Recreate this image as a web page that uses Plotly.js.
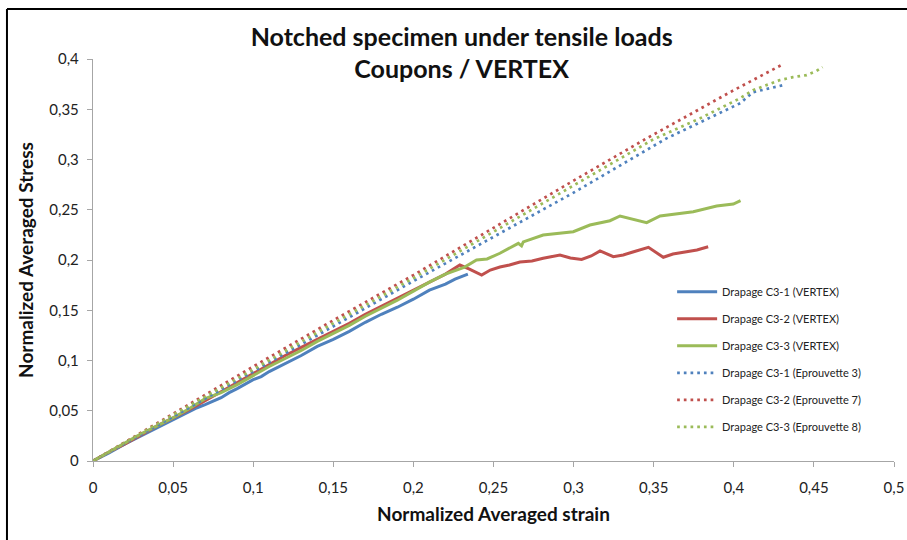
<!DOCTYPE html>
<html>
<head>
<meta charset="utf-8">
<script src="https://cdn.plot.ly/plotly-3.0.1.min.js"></script>
<style>html,body{margin:0;padding:0;background:#fff;}#chart{width:907px;height:540px;}</style>
</head>
<body>
<div id="chart"></div>
<script>
// ---- Data ----
const c31VertexX = [0,0.01,0.02,0.03,0.04,0.05,0.06,0.065,0.07,0.08,0.085,0.09,0.10,0.105,0.11,0.12,0.13,0.14,0.15,0.16,0.17,0.18,0.19,0.20,0.21,0.22,0.226,0.234];
const c31VertexY = [0,0.008,0.017,0.025,0.033,0.041,0.049,0.053,0.056,0.063,0.068,0.072,0.081,0.084,0.089,0.097,0.105,0.114,0.121,0.129,0.138,0.146,0.153,0.161,0.170,0.176,0.181,0.186];

const c32VertexX = [0,0.01,0.02,0.03,0.04,0.05,0.06,0.07,0.08,0.09,0.10,0.11,0.12,0.13,0.14,0.15,0.16,0.17,0.18,0.19,0.20,0.21,0.22,0.229,0.235,0.2426,0.248,0.254,0.26,0.2665,0.274,0.281,0.2915,0.298,0.305,0.311,0.3165,0.3248,0.331,0.337,0.3467,0.356,0.362,0.3705,0.377,0.384];
const c32VertexY = [0,0.009,0.017,0.026,0.035,0.043,0.051,0.060,0.069,0.078,0.087,0.096,0.105,0.113,0.121,0.129,0.137,0.146,0.154,0.162,0.170,0.178,0.186,0.195,0.191,0.185,0.190,0.193,0.195,0.198,0.199,0.2017,0.205,0.202,0.2006,0.204,0.209,0.2033,0.205,0.208,0.2126,0.2027,0.206,0.2083,0.210,0.2132];

const c33VertexX = [0,0.01,0.02,0.03,0.04,0.05,0.06,0.07,0.08,0.09,0.10,0.11,0.12,0.13,0.14,0.15,0.16,0.17,0.18,0.19,0.20,0.21,0.22,0.232,0.2394,0.246,0.254,0.2655,0.2675,0.2686,0.281,0.2998,0.3102,0.3227,0.329,0.3456,0.354,0.3747,0.3893,0.3997,0.4042];
const c33VertexY = [0,0.009,0.018,0.027,0.035,0.043,0.052,0.062,0.068,0.076,0.085,0.094,0.102,0.110,0.119,0.127,0.135,0.144,0.152,0.160,0.169,0.178,0.186,0.193,0.200,0.201,0.2067,0.2166,0.214,0.218,0.2249,0.2282,0.2348,0.2391,0.2438,0.2371,0.2438,0.248,0.2537,0.2557,0.259];

const c31TestX = [0,0.05,0.10,0.15,0.20,0.25,0.30,0.358,0.404,0.412,0.431];
const c31TestY = [0,0.044,0.089,0.134,0.179,0.223,0.267,0.321,0.356,0.367,0.374];

const c32TestX = [0,0.05,0.10,0.15,0.20,0.25,0.30,0.3456,0.40,0.431];
const c32TestY = [0,0.047,0.094,0.140,0.185,0.232,0.279,0.321,0.369,0.395];

const c33TestX = [0,0.05,0.10,0.15,0.20,0.25,0.30,0.3497,0.379,0.404,0.412,0.4288,0.437,0.4455,0.4516,0.4554];
const c33TestY = [0,0.046,0.091,0.137,0.182,0.228,0.274,0.320,0.341,0.361,0.369,0.379,0.382,0.384,0.388,0.392];

const seriesNames = ['Drapage C3-1 (VERTEX)','Drapage C3-2 (VERTEX)','Drapage C3-3 (VERTEX)',
  'Drapage C3-1 (Eprouvette 3)','Drapage C3-2 (Eprouvette 7)','Drapage C3-3 (Eprouvette 8)'];

const xTickVals = [0,0.05,0.1,0.15,0.2,0.25,0.3,0.35,0.4,0.45,0.5];
const xTickText = ['0','0,05','0,1','0,15','0,2','0,25','0,3','0,35','0,4','0,45','0,5'];
const yTickVals = [0,0.05,0.1,0.15,0.2,0.25,0.3,0.35,0.4];
const yTickText = ['0','0,05','0,1','0,15','0,2','0,25','0,3','0,35','0,4'];

// ---- Styling ----
const BLUE = '#4F81BD', RED = '#C0504D', GREEN = '#9BBB59';
const FONT = 'Lato, "Open Sans", sans-serif';

function solid(x, y, name, color, g) {
  return {x: x, y: y, name: name, type: 'scatter', mode: 'lines', legendgroup: g,
    line: {color: color, width: 3}, hoverinfo: 'x+y'};
}
function dotted(x, y, name, color, g) {
  return {x: x, y: y, name: name, type: 'scatter', mode: 'lines', legendgroup: g,
    line: {color: color, width: 2.7, dash: '2.7px,4px'}, hoverinfo: 'x+y'};
}

const traces = [
  solid(c31VertexX, c31VertexY, seriesNames[0], BLUE, 'g1'),
  solid(c32VertexX, c32VertexY, seriesNames[1], RED, 'g2'),
  solid(c33VertexX, c33VertexY, seriesNames[2], GREEN, 'g3'),
  dotted(c31TestX, c31TestY, seriesNames[3], BLUE, 'g4'),
  dotted(c32TestX, c32TestY, seriesNames[4], RED, 'g5'),
  dotted(c33TestX, c33TestY, seriesNames[5], GREEN, 'g6')
];

const AXC = '#A6A6A6';
const layout = {
  width: 907, height: 540,
  margin: {l: 93, r: 13, t: 59, b: 79},
  paper_bgcolor: '#fff', plot_bgcolor: '#fff',
  font: {family: FONT, color: '#222'},
  title: {
    text: 'Notched specimen under tensile loads<br>Coupons / VERTEX',
    font: {family: FONT, size: 25, color: '#111', weight: 'bold'},
    x: 0.509, xref: 'container', xanchor: 'center',
    y: 0.915, yref: 'container', yanchor: 'middle'
  },
  xaxis: {
    range: [0, 0.5], tickvals: xTickVals, ticktext: xTickText,
    showline: true, linecolor: AXC, linewidth: 1.2, ticks: 'outside', ticklen: 5, tickcolor: AXC,
    ticklabelstandoff: 8,
    showgrid: false, zeroline: false, tickfont: {size: 15, color: '#222'},
    title: {text: 'Normalized Averaged strain', font: {size: 19, color: '#111', weight: 'bold'}, standoff: 12}
  },
  yaxis: {
    range: [0, 0.4], tickvals: yTickVals, ticktext: yTickText,
    showline: true, linecolor: AXC, linewidth: 1.2, ticks: 'outside', ticklen: 5, tickcolor: AXC,
    ticklabelstandoff: 5,
    showgrid: false, zeroline: false, tickfont: {size: 15, color: '#222'},
    title: {text: 'Normalized Averaged Stress', font: {size: 19, color: '#111', weight: 'bold'}, standoff: 10}
  },
  legend: {
    x: 0.723, y: 0.457, xanchor: 'left', yanchor: 'top',
    font: {size: 11, color: '#222'}, itemwidth: 40, tracegroupgap: 8,
    bgcolor: 'rgba(0,0,0,0)'
  },
  showlegend: true,
  shapes: [
    {type: 'line', xref: 'paper', yref: 'paper', x0: -0.1074, x1: -0.1074, y0: -0.25, y1: 1.1244,
      line: {color: '#000', width: 2}},
    {type: 'line', xref: 'paper', yref: 'paper', x0: -0.1074, x1: 1.05, y0: 1.1244, y1: 1.1244,
      line: {color: '#000', width: 2}}
  ]
};

Plotly.newPlot('chart', traces, layout, {staticPlot: true, displayModeBar: false});
</script>
</body>
</html>
